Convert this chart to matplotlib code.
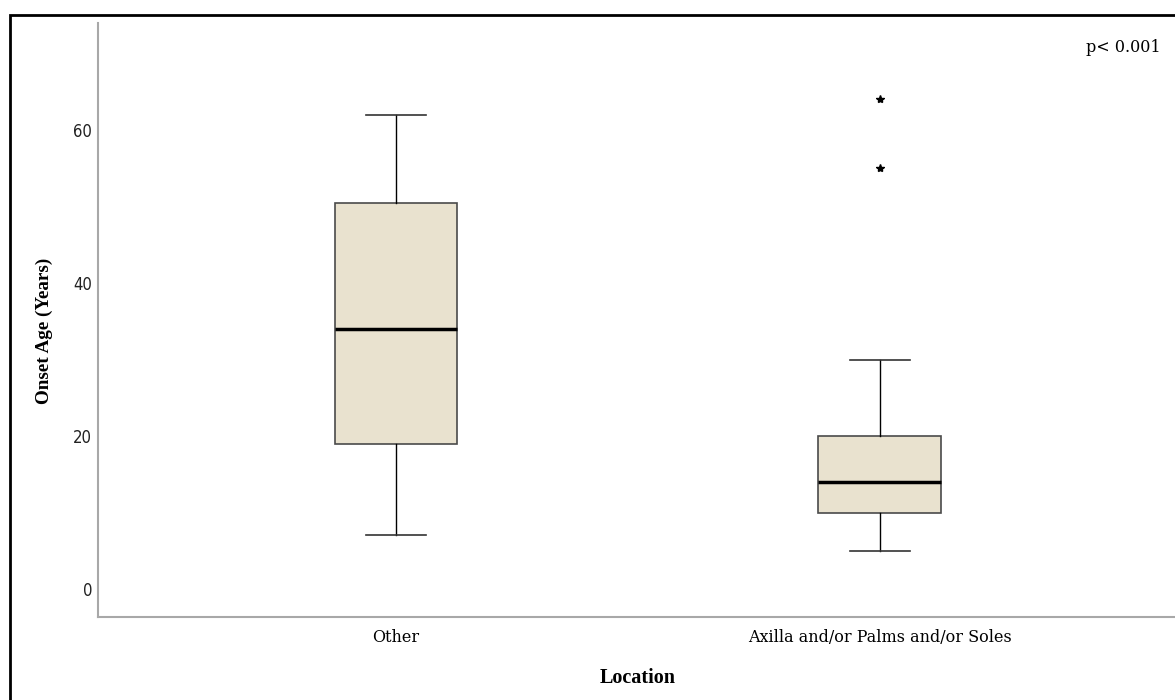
import matplotlib
matplotlib.use('Agg')
import matplotlib.pyplot as plt
from matplotlib.patches import Rectangle

# box statistics
groups = ['Other', 'Axilla and/or Palms and/or Soles']
whislo = [7.0, 5.0]
q1 = [19.0, 10.0]
med = [34.0, 14.0]
q3 = [50.5, 20.0]
whishi = [62.0, 30.0]
outliers = [[], [55.0, 64.0]]

stats = []
for i in range(len(groups)):
    stats.append({'label': groups[i], 'whislo': whislo[i], 'q1': q1[i], 'med': med[i],
                  'q3': q3[i], 'whishi': whishi[i], 'fliers': outliers[i]})

fig = plt.figure(figsize=(11.75, 7), dpi=100)
ax = fig.add_axes([98 / 1175, 1 - 617 / 700, 1 - 98 / 1175, (617 - 23) / 700])

ax.bxp(stats, positions=[0, 1], widths=0.254, capwidths=0.124, patch_artist=True,
       boxprops=dict(facecolor='#e9e2cf', edgecolor='#4a4a4a', linewidth=1.2),
       medianprops=dict(color='black', linewidth=2.5),
       whiskerprops=dict(color='black', linewidth=1),
       capprops=dict(color='#333333', linewidth=1.2),
       flierprops=dict(marker='*', markersize=6, markerfacecolor='black',
                       markeredgecolor='black', linestyle='none'))

ax.set_xlim(-0.616, 1.61)
ax.set_ylim(-3.66, 74.0)
ax.set_yticks([0, 20, 40, 60])
ax.set_yticklabels(['0', '20', '40', '60'], fontsize=12, family='DejaVu Sans',
                   fontstretch='condensed', color='#222222')
ax.set_xticks([0, 1])
ax.set_xticklabels(groups, fontsize=11.5, family='DejaVu Serif')
ax.tick_params(axis='y', length=0, pad=4.3)
ax.tick_params(axis='x', length=0, pad=9)

for s in ['top', 'right']:
    ax.spines[s].set_visible(False)
for s in ['left', 'bottom']:
    ax.spines[s].set_color('#a8a8a8')
    ax.spines[s].set_linewidth(1.5)

fig.text(44 / 1175, 1 - 331 / 700, 'Onset Age (Years)', rotation=90, ha='center', va='center',
         fontsize=13.8, fontweight='bold', family='Liberation Serif')
fig.text(638 / 1175, 1 - 678 / 700, 'Location', ha='center', va='center',
         fontsize=14.5, fontweight='bold', family='Liberation Serif')
fig.text(1123 / 1175, 1 - 48 / 700, 'p< 0.001', ha='center', va='center',
         fontsize=11.5, family='DejaVu Serif')

# outer frame, only left and top edges fall inside the picture
fig.patches.append(Rectangle((10 / 1175, -0.05), 1.1, 1 - 15 / 700 + 0.05, transform=fig.transFigure,
                             fill=False, edgecolor='black', linewidth=2, zorder=0))

fig.savefig('out.png', dpi=100)
